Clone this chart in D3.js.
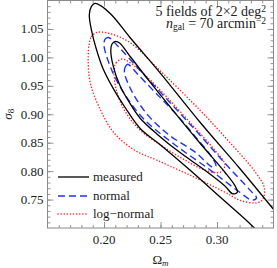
<!DOCTYPE html>
<html><head><meta charset="utf-8">
<script src="https://cdn.jsdelivr.net/npm/d3@7"></script>
<style>
body{margin:0;background:#fff;}
text{font-family:"Liberation Serif","Times New Roman",serif;fill:#222;}
</style></head>
<body><svg id="c" width="277" height="268"></svg>
<script>
// ---- data (Omega_m, sigma_8) contour points ----
const xDomain = [0.15, 0.35];
const yDomain = [0.70, 1.10];
const xTicks = [0.20, 0.25, 0.30];
const yTicks = [0.75, 0.80, 0.85, 0.90, 0.95, 1.00, 1.05];
const seriesNames = ["measured", "normal", "log\u2212normal"];

const measured2 = [[0.187,1.075],[0.189,1.090],[0.192,1.095],[0.197,1.091],[0.207,1.074],[0.223,1.035],[0.250,0.972],[0.285,0.886],[0.320,0.805],[0.350,0.733],[0.369,0.688],[0.374,0.661],[0.365,0.647],[0.347,0.665],[0.333,0.700],[0.303,0.754],[0.276,0.802],[0.250,0.846],[0.232,0.875],[0.219,0.911],[0.208,0.946],[0.199,0.981],[0.193,1.016],[0.189,1.047]];
const measured1 = [[0.206,1.012],[0.207,1.023],[0.210,1.028],[0.214,1.025],[0.223,1.002],[0.241,0.956],[0.263,0.902],[0.285,0.849],[0.307,0.798],[0.316,0.774],[0.318,0.763],[0.314,0.760],[0.307,0.774],[0.289,0.802],[0.267,0.833],[0.247,0.865],[0.232,0.893],[0.223,0.919],[0.214,0.951],[0.208,0.986]];
const normal2 = [[0.200,1.021],[0.201,1.032],[0.204,1.035],[0.214,1.016],[0.232,0.977],[0.254,0.930],[0.281,0.872],[0.307,0.814],[0.329,0.767],[0.335,0.753],[0.331,0.749],[0.320,0.763],[0.294,0.802],[0.263,0.846],[0.236,0.890],[0.219,0.933],[0.207,0.977]];
const normal1 = [[0.218,0.974],[0.219,0.984],[0.221,0.988],[0.230,0.970],[0.245,0.939],[0.263,0.902],[0.281,0.860],[0.296,0.823],[0.299,0.809],[0.296,0.807],[0.281,0.833],[0.258,0.863],[0.239,0.898],[0.225,0.939]];
const lognormal2 = [[0.187,1.025],[0.189,1.037],[0.194,1.044],[0.205,1.042],[0.223,1.026],[0.251,0.974],[0.285,0.907],[0.312,0.849],[0.334,0.798],[0.342,0.770],[0.340,0.749],[0.334,0.744],[0.320,0.749],[0.307,0.763],[0.276,0.793],[0.247,0.819],[0.227,0.837],[0.209,0.867],[0.197,0.907],[0.188,0.954],[0.186,0.995]];
const lognormal1 = [[0.209,0.981],[0.211,0.991],[0.216,0.997],[0.225,0.988],[0.241,0.960],[0.258,0.925],[0.281,0.875],[0.298,0.837],[0.307,0.811],[0.303,0.798],[0.289,0.802],[0.272,0.819],[0.250,0.846],[0.232,0.872],[0.219,0.904],[0.211,0.942]];

const contours = [
  {pts: lognormal2, s: 2}, {pts: lognormal1, s: 2},
  {pts: normal2, s: 1}, {pts: normal1, s: 1},
  {pts: measured2, s: 0}, {pts: measured1, s: 0}
];
// ---- styles ----
const styles = [
  {stroke:"#000", width:1.3, dash:null, cap:"butt"},
  {stroke:"#2233ee", width:1.4, dash:"7,4", cap:"butt"},
  {stroke:"#ff2020", width:1.5, dash:"0.1,3", cap:"round"}
];

const L = 47.5, R = 273.5, T = 0.5, B = 228;
const svg = d3.select("#c");
const x = d3.scaleLinear().domain(xDomain).range([L, R]);
const y = d3.scaleLinear().domain(yDomain).range([B, T]);

svg.append("defs").append("clipPath").attr("id","clip")
  .append("rect").attr("x",L).attr("y",T).attr("width",R-L).attr("height",B-T);

// minor + major ticks on all sides
const tickCol = "#8a8a8a";
const xMinor = d3.range(0.16, 0.3401, 0.01);
const yMinor = d3.range(0.71, 1.0901, 0.01);
function ax(gen, tr, vals, size){
  const g = svg.append("g").attr("transform", tr).call(gen.tickValues(vals).tickSize(size).tickFormat(""));
  g.select(".domain").remove();
  g.selectAll("line").attr("stroke", tickCol).attr("stroke-width",0.9);
}
ax(d3.axisBottom(x), `translate(0,${B})`, xMinor, -3);
ax(d3.axisBottom(x), `translate(0,${B})`, xTicks, -6);
ax(d3.axisTop(x), `translate(0,${T})`, xMinor, -3);
ax(d3.axisTop(x), `translate(0,${T})`, xTicks, -6);
ax(d3.axisLeft(y), `translate(${L},0)`, yMinor, -3);
ax(d3.axisLeft(y), `translate(${L},0)`, yTicks, -6);
ax(d3.axisRight(y), `translate(${R},0)`, yMinor, -3);
ax(d3.axisRight(y), `translate(${R},0)`, yTicks, -6);

// tick labels
svg.append("g").selectAll("text").data(xTicks).join("text")
  .attr("x", d => x(d)).attr("y", B + 16).attr("text-anchor","middle")
  .attr("font-size", 13).text(d => d3.format(".2f")(d));
svg.append("g").selectAll("text").data(yTicks).join("text")
  .attr("x", L - 4).attr("y", d => y(d) + 4.5).attr("text-anchor","end")
  .attr("font-size", 13).text(d => d3.format(".2f")(d));

// axis titles
const xt = svg.append("text").attr("x", (L+R)/2).attr("y", 264).attr("text-anchor","middle").attr("font-size",13);
xt.append("tspan").text("\u03A9");
xt.append("tspan").attr("font-style","italic").attr("font-size",9).attr("dy",2).text("m");
const yt = svg.append("text").attr("transform",`translate(12,${(T+B)/2}) rotate(-90)`).attr("text-anchor","middle").attr("font-size",13);
yt.append("tspan").attr("font-style","italic").text("\u03C3");
yt.append("tspan").attr("font-size",9).attr("dy",2).text("8");

// contours
const line = d3.line().x(d => x(d[0])).y(d => y(d[1])).curve(d3.curveCatmullRomClosed.alpha(0.5));
const cg = svg.append("g").attr("clip-path","url(#clip)");
contours.forEach(c => {
  const st = styles[c.s];
  cg.append("path").attr("d", line(c.pts)).attr("fill","none")
    .attr("stroke", st.stroke).attr("stroke-width", st.width)
    .attr("stroke-dasharray", st.dash).attr("stroke-linecap", st.cap);
});

// frame
svg.append("rect").attr("x",L).attr("y",T).attr("width",R-L).attr("height",B-T)
  .attr("fill","none").attr("stroke","#8a8a8a").attr("stroke-width",1);

// annotation
const a1 = svg.append("text").attr("x",266).attr("y",16).attr("text-anchor","end").attr("font-size",14);
a1.append("tspan").text("5 fields of 2\u00D72 deg");
a1.append("tspan").attr("font-size",9.5).attr("dy",-4).text("2");
const a2 = svg.append("text").attr("x",266).attr("y",27.5).attr("text-anchor","end").attr("font-size",14);
a2.append("tspan").attr("font-style","italic").text("n");
a2.append("tspan").attr("font-size",9.5).attr("dy",2.5).text("gal");
a2.append("tspan").attr("dy",-2.5).text(" = 70 arcmin");
a2.append("tspan").attr("font-size",9.5).attr("dy",-4).text("\u22122");

// legend
const legY = [177, 196, 214];
const lg = svg.append("g");
seriesNames.forEach((name, i) => {
  const st = styles[i];
  lg.append("line").attr("x1",58).attr("x2",89).attr("y1",legY[i]).attr("y2",legY[i])
    .attr("stroke",st.stroke).attr("stroke-width",st.width)
    .attr("stroke-dasharray",st.dash).attr("stroke-linecap",st.cap);
  lg.append("text").attr("x",93).attr("y",legY[i]+4).attr("font-size",13).text(name);
});
</script></body></html>
